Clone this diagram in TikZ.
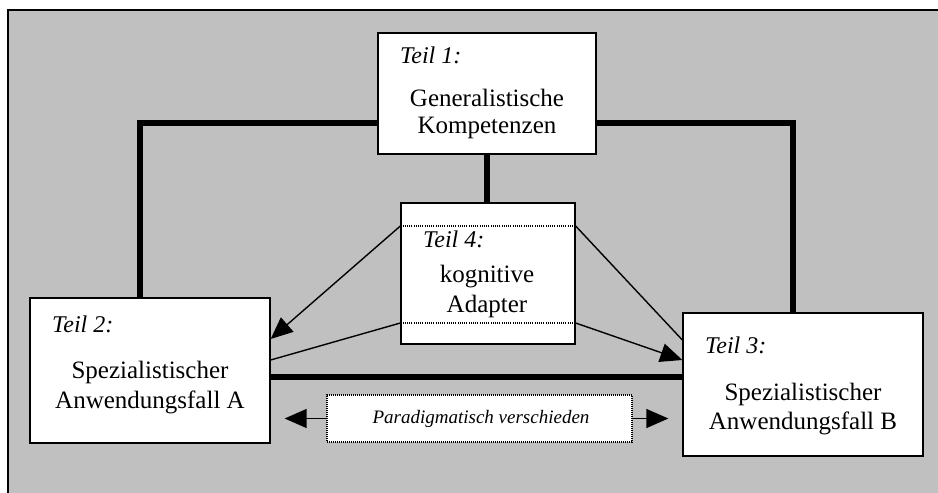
\documentclass[tikz,border=0pt]{standalone}
\usepackage{fontspec}
\setmainfont{Liberation Serif}
\usetikzlibrary{arrows.meta}
\definecolor{bggray}{RGB}{192,192,192}
\tikzset{
  box/.style={draw=black, fill=white, line width=1.3pt, inner sep=0pt, rectangle},
  parabox/.style={draw=black, fill=white, line width=1.1pt, dash pattern=on 1pt off 1pt, inner sep=0pt},
  main/.style={inner sep=0pt, font=\fontsize{25}{30}\selectfont, anchor=base},
  teil/.style={inner sep=0pt, font=\fontsize{24}{28}\selectfont\itshape, anchor=base west},
  paratext/.style={inner sep=0pt, font=\fontsize{19}{22}\selectfont\itshape, anchor=base},
  thickline/.style={line width=5.5pt},
  thinline/.style={line width=1.4pt},
  thinarrow/.style={line width=1.4pt, -{Triangle[length=22pt,width=19pt]}},
  dotline/.style={line width=1.1pt, dash pattern=on 1pt off 1.2pt},
}
\begin{document}
\begin{tikzpicture}[x=1pt,y=-1pt]
\useasboundingbox (0,0) rectangle (938,493);
\fill[white] (0,0) rectangle (938,493);
\fill[bggray] (8,10) rectangle (938,493);
\draw[line width=1.3pt] (8,493) -- (8,10) -- (938,10);

% boxes
\node[box, minimum width=218pt, minimum height=121pt] (box1) at (487,93.5) {};
\node[box, minimum width=240pt, minimum height=145pt] (box2) at (150,370.5) {};
\node[box, minimum width=240pt, minimum height=143pt] (box3) at (803,384.5) {};

% thick connectors
\draw[thickline] (box1.west |- 0,123) -| (box2.north -| 140,0);
\draw[thickline] (box1.east |- 0,123) -| (box3.north -| 793,0);
\draw[thickline] (box2.east |- 0,377) -- (box3.west |- 0,377);

\node[box, minimum width=174pt, minimum height=141pt] (box4) at (488,273.5) {};
\draw[thickline] (box1.south) -- (box1.south |- box4.north);

% dotted lines in box4
\draw[dotline] (box4.west |- 0,226) -- (box4.east |- 0,226);
\draw[dotline] (box4.west |- 0,323) -- (box4.east |- 0,323);

% thin connectors
\draw[thinarrow] (box4.west |- 0,226) -- (box2.east |- 0,339);
\draw[thinline] (box4.west |- 0,323) -- (box2.east |- 0,360);
\draw[thinline] (box4.east |- 0,226) -- (box3.west |- 0,340);
\draw[thinarrow] (box4.east |- 0,323) -- (box3.west |- 0,360);

% paradigm box
\node[parabox, minimum width=305pt, minimum height=47pt] (para) at (479.5,418.5) {};
\draw[thinarrow, shorten >=14pt] (para.west) -- (box2.east |- para.west);
\draw[thinarrow, shorten >=14pt] (para.east) -- (box3.west |- para.east);

% texts
\node[teil] (t1) at (400,63) {Teil 1:};
\node[main] (g1) at (487,106) {Generalistische};
\node[main] (g2) at (487,133) {Kompetenzen};

\node[teil] (t4) at (423,247) {Teil 4:};
\node[main] (k1) at (487,282) {kognitive};
\node[main] (k2) at (487,312) {Adapter};

\node[teil] (t2) at (52,332) {Teil 2:};
\node[main] (s1) at (150,378) {Spezialistischer};
\node[main] (s2) at (150,408) {Anwendungsfall A};

\node[teil] (t3) at (705,353) {Teil 3:};
\node[main] (s3) at (803,400) {Spezialistischer};
\node[main] (s4) at (803,429) {Anwendungsfall B};

\node[paratext] (pt) at (481,423) {Paradigmatisch verschieden};
\end{tikzpicture}
\end{document}
